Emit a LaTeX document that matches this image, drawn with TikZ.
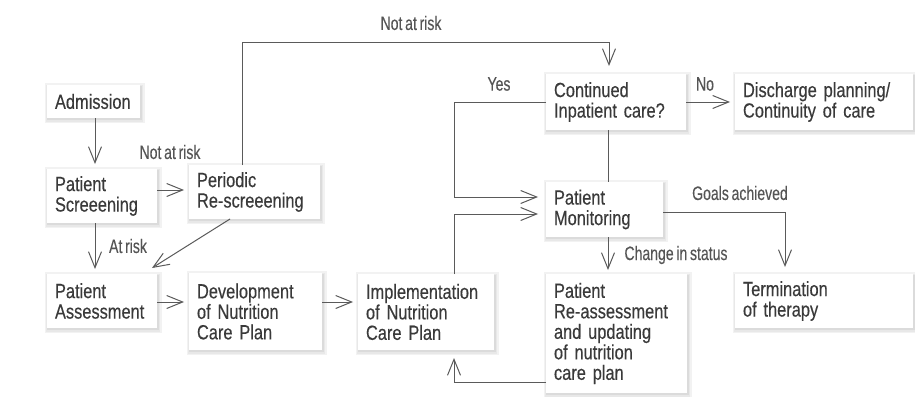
\documentclass[tikz,border=0pt]{standalone}
\usepackage{fontspec}
\newfontfamily\boxfont[FakeStretch=0.8,WordSpace=0.6,FakeBold=0.3]{Liberation Sans}
\newfontfamily\lblfont[FakeStretch=0.72,WordSpace=0.7,FakeBold=0.2]{Liberation Sans}
\usetikzlibrary{arrows.meta,shadows,calc}
\definecolor{linec}{HTML}{5A5A5A}
\definecolor{boxtext}{HTML}{3A3A3A}
\definecolor{lbltext}{HTML}{555555}
\newcommand\bxf{\boxfont\fontsize{20.5}{20.5}\selectfont\lineskiplimit=-100pt\relax}
\newcommand\lbf{\lblfont\fontsize{19.5}{22}\selectfont}
\tikzset{
  softshadow/.style={
    general shadow={fill=black!5, draw=black!5, line width=7pt, shadow xshift=1pt, shadow yshift=-1.5pt},
    general shadow={fill=black!9, draw=black!9, line width=4pt, shadow xshift=1pt, shadow yshift=-1.5pt},
    general shadow={fill=black!14, draw=black!14, line width=1.5pt, shadow xshift=1pt, shadow yshift=-1.5pt}
  },
  boxn/.style n args={3}{fill=white, softshadow, inner xsep=8pt, inner ysep=0pt, outer sep=0pt,
    minimum width=#1pt, minimum height=#2pt, text width=#3pt, align=left, anchor=center,
    font=\bxf, text=boxtext},
  lbl/.style={font=\lbf, text=lbltext, inner sep=0pt, anchor=center},
  conn/.style={draw=linec, line width=1pt},
  arr/.style={conn, -{Straight Barb[length=16pt,width=13pt]}, shorten >=5pt}
}
\begin{document}
\begin{tikzpicture}[x=1pt,y=-1pt]
\useasboundingbox (0,0) rectangle (915,396);
\fill[white] (0,0) rectangle (915,396);

% boxes
\node[boxn={93}{33}{77}]    (adm)  at (93.5,101.5) {Admission};
\node[boxn={110}{54}{94}]   (scr)  at (102,196)    {Patient\\Screeening};
\node[boxn={131}{54}{115}]  (per)  at (254.5,192)  {Periodic\\Re-screeening};
\node[boxn={110}{54}{94}]   (ass)  at (102,301)    {Patient\\Assessment};
\node[boxn={133}{77}{117}]  (dev)  at (255.5,311.5) {Development\\of Nutrition\\Care Plan};
\node[boxn={136}{76}{120}]  (imp)  at (426,312)    {Implementation\\of Nutrition\\Care Plan};
\node[boxn={140}{56}{124}]  (cont) at (616,102)    {Continued\\Inpatient care?};
\node[boxn={178}{56}{162}]  (dis)  at (824,102)    {Discharge planning/\\Continuity of care};
\node[boxn={117}{55}{101}]  (mon)  at (604.5,209.5) {Patient\\Monitoring};
\node[boxn={141}{119}{125}] (rea)  at (616.5,333.5) {Patient\\Re-assessment\\and updating\\of nutrition\\care plan};
\node[boxn={178}{54}{162}]  (ter)  at (824,301)    {Termination\\of therapy};

% connectors
\draw[arr] ([xshift=1.5pt]adm.south) -- ([xshift=1.5pt]adm.south |- scr.north);
\draw[arr] ([yshift=6pt]scr.east) -- ([yshift=6pt]scr.east -| per.west);
\draw[arr] ([xshift=-7pt]scr.south) -- ([xshift=-7pt]ass.north);
\draw[arr, shorten >=0pt] ([xshift=-24.5pt]per.south) -- ([xshift=-5pt,yshift=6pt]ass.north east);
\draw[arr] ([yshift=-1pt]ass.east) -- ([yshift=-1pt]ass.east -| dev.west);
\draw[arr] ([yshift=9.5pt]dev.east) -- ([yshift=9.5pt]dev.east -| imp.west);
\draw[arr, shorten >=8pt] ([xshift=-12.5pt]per.north) -- ++(0,-122) -| ([xshift=-7pt]cont.north);
\draw[arr] (cont.east) -- (cont.east -| dis.west);
\draw[conn] ([xshift=-8pt]cont.south) -- ([xshift=-8pt]cont.south |- mon.north);
\draw[arr, shorten >=8pt] (cont.west) -- ++(-92,0) |- ([yshift=12.5pt]mon.west);
\draw[arr, shorten >=8pt] ([xshift=28pt]imp.north) |- ([yshift=-4.5pt]mon.west);
\draw[arr, shorten >=4pt] ([xshift=3.5pt]mon.south) -- ([xshift=3.5pt]mon.south |- rea.north);
\draw[arr, shorten >=7pt] ([yshift=-2.5pt]mon.east) -| ([xshift=-39pt]ter.north);
\draw[arr, shorten >=8pt] ([yshift=-48.5pt]rea.west) -| ([xshift=28pt]imp.south);

% labels
\node[lbl] (l1) at (170,152) {Not at risk};
\node[lbl] (l2) at (128,246) {At risk};
\node[lbl] (l3) at (411,23)  {Not at risk};
\node[lbl] (l4) at (499,84)  {Yes};
\node[lbl] (l5) at (705,84)  {No};
\node[lbl] (l6) at (740,193) {Goals achieved};
\node[lbl] (l7) at (676,255) {Change in status};
\end{tikzpicture}
\end{document}
